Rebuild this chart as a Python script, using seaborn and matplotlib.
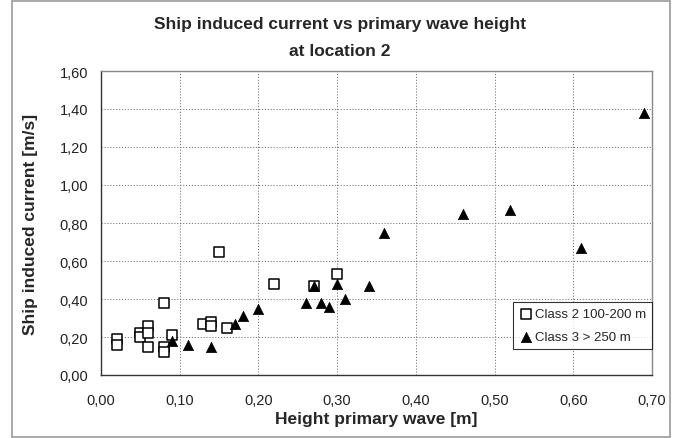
import pandas as pd
import matplotlib
matplotlib.use("Agg")
import matplotlib.pyplot as plt
import seaborn as sns
from matplotlib.ticker import MultipleLocator, FuncFormatter
from matplotlib.patches import Rectangle

# Class 2 100-200 m (open squares)
class2_x = [0.02, 0.02, 0.05, 0.05, 0.06, 0.06, 0.06, 0.08, 0.08, 0.08,
            0.09, 0.13, 0.14, 0.14, 0.15, 0.16, 0.22, 0.27, 0.30]
class2_y = [0.19, 0.16, 0.22, 0.20, 0.26, 0.22, 0.15, 0.38, 0.15, 0.12,
            0.21, 0.27, 0.28, 0.26, 0.65, 0.25, 0.48, 0.47, 0.53]

# Class 3 > 250 m (filled triangles)
class3_x = [0.09, 0.11, 0.14, 0.17, 0.18, 0.20, 0.26, 0.27, 0.28, 0.29,
            0.30, 0.31, 0.34, 0.36, 0.46, 0.52, 0.61, 0.69]
class3_y = [0.18, 0.16, 0.15, 0.27, 0.31, 0.35, 0.38, 0.47, 0.38, 0.36,
            0.48, 0.40, 0.47, 0.75, 0.85, 0.87, 0.67, 1.38]

df2 = pd.DataFrame({"x": class2_x, "y": class2_y})
df3 = pd.DataFrame({"x": class3_x, "y": class3_y})

sns.set_style("white")
plt.rcParams["font.family"] = ["Liberation Sans", "DejaVu Sans"]

fig = plt.figure(figsize=(6.8, 4.39), dpi=100)
ax = fig.add_axes([101 / 680, 1 - 376 / 439, 551 / 680, 304 / 439])

# figure frame
fig.patches.append(Rectangle((12 / 680, 1 / 439), 658 / 680, 436 / 439,
                             transform=fig.transFigure, fill=False,
                             edgecolor="#999999", linewidth=1.2))

sns.scatterplot(data=df2, x="x", y="y", ax=ax, marker="s", s=42,
                facecolor="white", edgecolor="black", linewidth=1.1,
                label="Class 2 100-200 m", zorder=3)
sns.scatterplot(data=df3, x="x", y="y", ax=ax, marker="^", s=55,
                color="black", edgecolor="black", linewidth=0.5,
                label="Class 3 > 250 m", zorder=3)

ax.set_xlim(0, 0.70)
ax.set_ylim(0, 1.60)
ax.xaxis.set_major_locator(MultipleLocator(0.10))
ax.yaxis.set_major_locator(MultipleLocator(0.20))
comma = FuncFormatter(lambda v, p: f"{v:.2f}".replace(".", ","))
ax.xaxis.set_major_formatter(comma)
ax.yaxis.set_major_formatter(comma)

ax.grid(True, color="#777777", linestyle=(0, (1.2, 1.8)), linewidth=0.7)
ax.set_axisbelow(True)
ax.tick_params(axis="both", direction="out", length=4, width=0.8,
               colors="#333333", labelsize=10.5, labelcolor="#222222")
ax.tick_params(axis="y", pad=5)
ax.tick_params(axis="x", pad=9)
for side in ["left", "bottom"]:
    ax.spines[side].set_color("#333333")
    ax.spines[side].set_linewidth(1.0)
for side in ["top", "right"]:
    ax.spines[side].set_color("#888888")
    ax.spines[side].set_linewidth(1.0)

ax.set_xlabel("Height primary wave [m]", fontsize=12.5, fontweight="bold", labelpad=3)
ax.set_ylabel("Ship induced current [m/s]", fontsize=12.5, fontweight="bold", labelpad=16)

fig.text(0.5, 1 - 24 / 439, "Ship induced current vs primary wave height",
         ha="center", va="center", fontsize=12.5, fontweight="bold")
fig.text(0.5, 1 - 52 / 439, "at location 2",
         ha="center", va="center", fontsize=12.5, fontweight="bold")

leg = ax.legend(loc="lower right", bbox_to_anchor=(1.0, 0.085), fontsize=9.5,
                frameon=True, fancybox=False, edgecolor="black",
                handletextpad=0.2, handlelength=1.0, borderpad=0.45,
                labelspacing=0.8, borderaxespad=0)
leg.get_frame().set_linewidth(0.8)

plt.savefig("out.png", dpi=100)
